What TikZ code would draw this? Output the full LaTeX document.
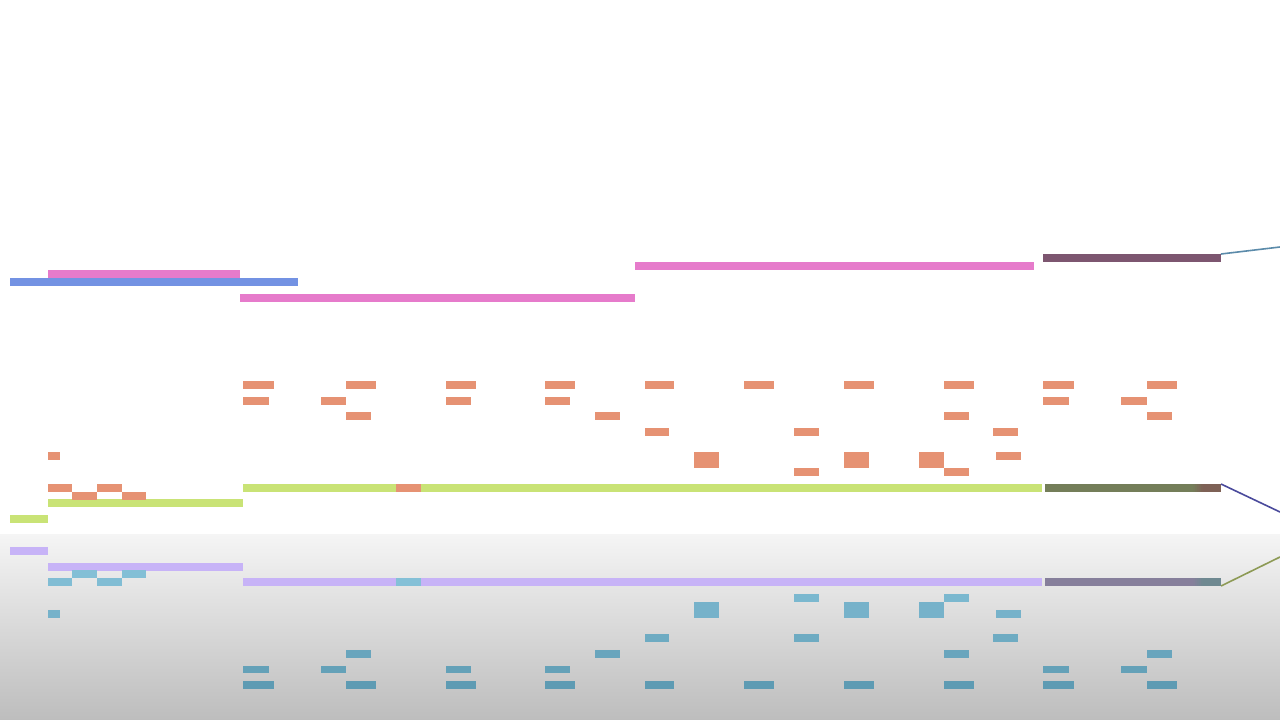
\documentclass[tikz,border=0pt]{standalone}
\usetikzlibrary{calc}
\definecolor{pinkc}{HTML}{E67BCB}
\definecolor{bluec}{HTML}{7392E3}
\definecolor{mauvec}{HTML}{7D5670}
\definecolor{orangec}{HTML}{E69273}
\definecolor{greenc}{HTML}{C9E376}
\definecolor{dgreenc}{HTML}{747E59}
\definecolor{brownc}{HTML}{7E6156}
\definecolor{lavc}{HTML}{C7B3F7}
\definecolor{gpurc}{HTML}{867F9B}
\definecolor{tgrayc}{HTML}{6F8991}
\definecolor{reflT}{HTML}{84C0D7}
\definecolor{reflB}{HTML}{5E9BB3}
\definecolor{lineA}{HTML}{5B8BAA}
\definecolor{lineB}{HTML}{4A4A9C}
\definecolor{lineC}{HTML}{8D9A55}
\definecolor{bgT}{HTML}{F5F5F5}
\definecolor{bgB}{HTML}{BDBDBD}
\newcommand\pnote[4]{%
  \fill[orangec] (#1,#3) rectangle (#2,{#3+#4});
  \pgfmathsetmacro\ry{1070-#3}%
  \pgfmathtruncatemacro\pc{max(0,min(100,(\ry-575)/(690-575)*100))}%
  \colorlet{rc}{reflB!\pc!reflT}%
  \fill[rc] (#1,{1070-#3-#4}) rectangle (#2,\ry);}
\tikzset{conn/.style={line width=1.6pt}}
\begin{document}
\begin{tikzpicture}[x=1pt,y=-1pt]
\useasboundingbox (0,0) rectangle (1280,720);
\fill[white] (0,0) rectangle (1280,534);
\shade[top color=bgT, bottom color=bgB] (0,534) rectangle (1280,720);
% upper long bars
\fill[pinkc] (48,270) rectangle (240,278);
\fill[bluec] (10,278) rectangle (298,286);
\fill[pinkc] (240,294) rectangle (635,302);
\fill[pinkc] (635,262) rectangle (1034,270);
\fill[mauvec] (1043,254) rectangle (1221,262);
% green bars and their reflections
\fill[greenc] (10,515) rectangle (48,523);
\fill[lavc] (10,547) rectangle (48,555);
\fill[greenc] (48,499) rectangle (243,507);
\fill[lavc] (48,563) rectangle (243,571);
\fill[greenc] (243,484) rectangle (1042,492);
\fill[lavc] (243,578) rectangle (1042,586);
\fill[dgreenc] (1045,484) rectangle (1221,492);
\fill[gpurc] (1045,578) rectangle (1221,586);
\foreach \i in {0,...,4}{
  \pgfmathtruncatemacro\q{\i*20+10}
  \colorlet{mixa}{brownc!\q!dgreenc}
  \colorlet{mixb}{tgrayc!\q!gpurc}
  \fill[mixa] ({1193+2*\i},484) rectangle ({1195+2*\i},492);
  \fill[mixb] ({1193+2*\i},578) rectangle ({1195+2*\i},586);
}
\fill[brownc] (1203,484) rectangle (1221,492);
\fill[tgrayc] (1203,578) rectangle (1221,586);
% orange notes (with reflections)
\foreach \a/\b in {243/274,346/376,446/476,545/575,645/674,744/774,844/874,944/974,1043/1074,1147/1177}
  {\pnote{\a}{\b}{381}{8}}
\foreach \a/\b in {243/269,321/346,446/471,545/570,1043/1069,1121/1147}
  {\pnote{\a}{\b}{397}{7.5}}
\foreach \a/\b in {346/371,595/620,944/969,1147/1172}
  {\pnote{\a}{\b}{412}{8}}
\foreach \a/\b in {645/669,794/819,993/1018}
  {\pnote{\a}{\b}{428}{8}}
\foreach \a/\b in {694/719,844/869,919/944}
  {\pnote{\a}{\b}{452}{16}}
\foreach \a/\b in {48/60,996/1021}
  {\pnote{\a}{\b}{452}{8}}
\foreach \a/\b in {794/819,944/969}
  {\pnote{\a}{\b}{468}{8}}
\foreach \a/\b in {48/72,97/122}
  {\pnote{\a}{\b}{484}{8}}
\foreach \a/\b in {72/97,122/146}
  {\pnote{\a}{\b}{492}{8}}
\fill[orangec] (396,484) rectangle (421,492);
\fill[reflT] (396,578) rectangle (421,586);
% connectors leaving the right ends
\coordinate (a1) at (1221,254);
\coordinate (a2) at (1280,247);
\coordinate (b1) at (1221,484);
\coordinate (b2) at (1280,512);
\coordinate (c1) at (1221,586);
\coordinate (c2) at (1280,557);
\draw[conn, lineA] (a1) -- (a2);
\draw[conn, lineB] (b1) -- (b2);
\draw[conn, lineC] (c1) -- (c2);
\end{tikzpicture}
\end{document}
